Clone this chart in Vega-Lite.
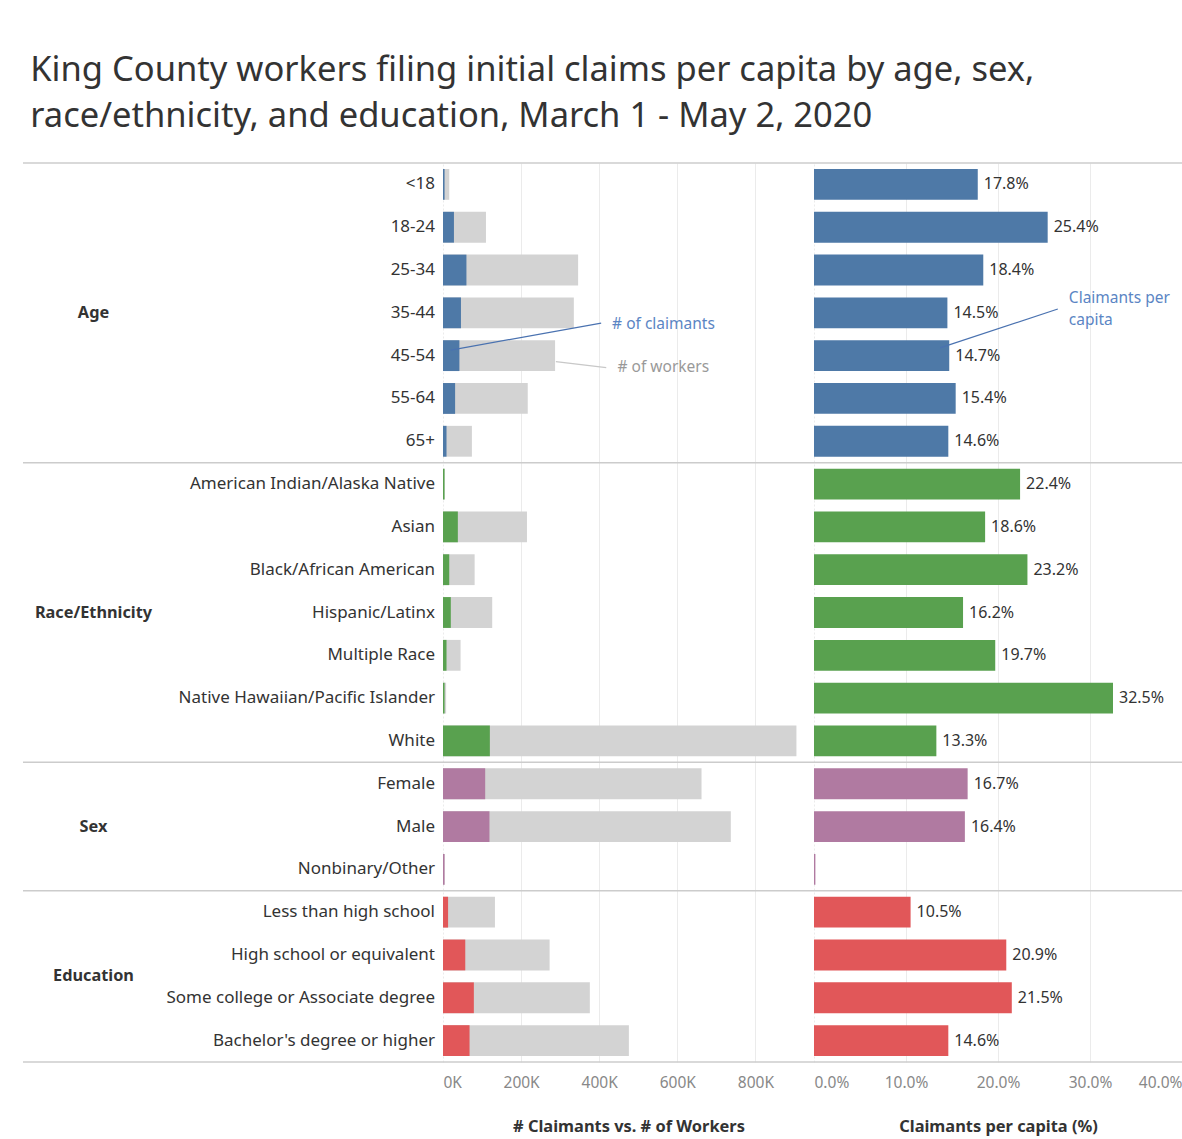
{
  "$schema": "https://vega.github.io/schema/vega-lite/v6.json",
  "background": "white",
  "padding": {"left": 22, "top": 52, "right": 0, "bottom": 4},
  "title": {
    "text": ["King County workers filing initial claims per capita by age, sex,", "race/ethnicity, and education, March 1 - May 2, 2020"],
    "anchor": "start",
    "font": "Noto Sans",
    "fontSize": 34.5,
    "fontWeight": "normal",
    "color": "#333333",
    "lineHeight": 46,
    "dx": 8,
    "offset": 28
  },
  "datasets": {
    "rows": [
      {"group": "Age", "label": "<18", "workers": 16, "claimants": 4, "pct": 0.178},
      {"group": "Age", "label": "18-24", "workers": 110, "claimants": 28, "pct": 0.254},
      {"group": "Age", "label": "25-34", "workers": 346, "claimants": 60, "pct": 0.184},
      {"group": "Age", "label": "35-44", "workers": 335, "claimants": 46, "pct": 0.145},
      {"group": "Age", "label": "45-54", "workers": 287, "claimants": 42, "pct": 0.147},
      {"group": "Age", "label": "55-64", "workers": 217, "claimants": 31, "pct": 0.154},
      {"group": "Age", "label": "65+", "workers": 74, "claimants": 9, "pct": 0.146},
      {"group": "Race/Ethnicity", "label": "American Indian/Alaska Native", "workers": 4, "claimants": 4, "pct": 0.224},
      {"group": "Race/Ethnicity", "label": "Asian", "workers": 215, "claimants": 38, "pct": 0.186},
      {"group": "Race/Ethnicity", "label": "Black/African American", "workers": 81, "claimants": 16, "pct": 0.232},
      {"group": "Race/Ethnicity", "label": "Hispanic/Latinx", "workers": 126, "claimants": 20, "pct": 0.162},
      {"group": "Race/Ethnicity", "label": "Multiple Race", "workers": 45, "claimants": 9, "pct": 0.197},
      {"group": "Race/Ethnicity", "label": "Native Hawaiian/Pacific Islander", "workers": 8, "claimants": 4, "pct": 0.325},
      {"group": "Race/Ethnicity", "label": "White", "workers": 905, "claimants": 120, "pct": 0.133},
      {"group": "Sex", "label": "Female", "workers": 662, "claimants": 108, "pct": 0.167},
      {"group": "Sex", "label": "Male", "workers": 737, "claimants": 119, "pct": 0.164},
      {"group": "Sex", "label": "Nonbinary/Other", "workers": 4, "claimants": 4, "pct": 0.0015},
      {"group": "Education", "label": "Less than high school", "workers": 133, "claimants": 13, "pct": 0.105},
      {"group": "Education", "label": "High school or equivalent", "workers": 273, "claimants": 57, "pct": 0.209},
      {"group": "Education", "label": "Some college or Associate degree", "workers": 376, "claimants": 79, "pct": 0.215},
      {"group": "Education", "label": "Bachelor's degree or higher", "workers": 476, "claimants": 68, "pct": 0.146}
    ],
    "groups": [
      {"group": "Age", "first": "<18", "anchor": "35-44", "even": false},
      {"group": "Race/Ethnicity", "first": "American Indian/Alaska Native", "anchor": "Hispanic/Latinx", "even": false},
      {"group": "Sex", "first": "Female", "anchor": "Male", "even": false},
      {"group": "Education", "first": "Less than high school", "anchor": "High school or equivalent", "even": true}
    ],
    "bottom": [{"last": "Bachelor's degree or higher"}],
    "claimNote": [{"x": 20, "x2": 405, "y": 4.37, "y2": 3.74, "t": "# of claimants", "tx": 433, "ty": 3.76}],
    "workNote": [{"x": 289, "x2": 418, "y": 4.64, "y2": 4.78, "t": "# of workers", "tx": 447, "ty": 4.77}],
    "pctNote": [{"x": 0.137, "x2": 0.265, "y": 4.32, "y2": 3.41, "t": "Claimants per\ncapita", "tx": 0.277, "ty": 3.15}]
  },
  "spacing": 0,
  "bounds": "flush",
  "hconcat": [
    {
      "width": 141,
      "height": 899,
      "layer": [
        {
          "data": {"name": "groups"},
          "mark": {"type": "rule", "color": "#cccccc", "strokeWidth": 1.5},
          "encoding": {
            "y": {"field": "first", "type": "nominal", "bandPosition": 0, "axis": null,
              "scale": {"domain": ["<18","18-24","25-34","35-44","45-54","55-64","65+","American Indian/Alaska Native","Asian","Black/African American","Hispanic/Latinx","Multiple Race","Native Hawaiian/Pacific Islander","White","Female","Male","Nonbinary/Other","Less than high school","High school or equivalent","Some college or Associate degree","Bachelor's degree or higher"], "paddingInner": 0, "paddingOuter": 0}}
          }
        },
        {
          "data": {"name": "bottom"},
          "mark": {"type": "rule", "color": "#cccccc", "strokeWidth": 1.5},
          "encoding": {
            "y": {"field": "last", "type": "nominal", "bandPosition": 1, "axis": null}
          }
        },
        {
          "data": {"name": "groups"},
          "transform": [{"filter": "!datum.even"}],
          "mark": {"type": "text", "align": "center", "baseline": "middle", "fontSize": 16.3, "fontWeight": "bold", "color": "#333333"},
          "encoding": {
            "y": {"field": "anchor", "type": "nominal", "bandPosition": 0.5, "axis": null},
            "text": {"field": "group"}
          }
        },
        {
          "data": {"name": "groups"},
          "transform": [{"filter": "datum.even"}],
          "mark": {"type": "text", "align": "center", "baseline": "middle", "fontSize": 16.3, "fontWeight": "bold", "color": "#333333"},
          "encoding": {
            "y": {"field": "anchor", "type": "nominal", "bandPosition": 1, "axis": null},
            "text": {"field": "group"}
          }
        }
      ]
    },
    {
      "width": 279,
      "height": 899,
      "layer": [
        {
          "data": {"name": "groups"},
          "mark": {"type": "rule", "color": "#cccccc", "strokeWidth": 1.5},
          "encoding": {
            "y": {"field": "first", "type": "nominal", "bandPosition": 0, "axis": null,
              "scale": {"domain": ["<18","18-24","25-34","35-44","45-54","55-64","65+","American Indian/Alaska Native","Asian","Black/African American","Hispanic/Latinx","Multiple Race","Native Hawaiian/Pacific Islander","White","Female","Male","Nonbinary/Other","Less than high school","High school or equivalent","Some college or Associate degree","Bachelor's degree or higher"], "paddingInner": 0, "paddingOuter": 0}}
          }
        },
        {
          "data": {"name": "bottom"},
          "mark": {"type": "rule", "color": "#cccccc", "strokeWidth": 1.5},
          "encoding": {
            "y": {"field": "last", "type": "nominal", "bandPosition": 1, "axis": null}
          }
        },
        {
          "data": {"name": "rows"},
          "mark": {"type": "text", "align": "right", "baseline": "middle", "dx": -8, "fontSize": 17, "color": "#333333"},
          "encoding": {
            "x": {"value": "width"},
            "y": {"field": "label", "type": "nominal", "axis": null},
            "text": {"field": "label"}
          }
        }
      ]
    },
    {
      "width": 371,
      "height": 899,
      "resolve": {"scale": {"y": "independent"}},
      "layer": [
        {
          "layer": [
            {
              "data": {"name": "rows"},
              "mark": {"type": "bar", "color": "#d3d3d3", "height": {"band": 0.72}},
              "encoding": {
                "x": {"field": "workers", "type": "quantitative",
                  "scale": {"domain": [0, 950], "nice": false},
                  "axis": {"title": "# Claimants vs. # of Workers", "values": [0, 200, 400, 600, 800], "labelExpr": "datum.value + 'K'",
                    "grid": true, "gridColor": "#ebebeb", "gridDash": {"condition": {"test": "datum.value === 0", "value": [2, 2]}, "value": []},
                    "domain": false, "ticks": false, "labelFontSize": 15.5, "labelColor": "#888888", "labelPadding": 13,
                    "titleFontSize": 16.4, "titleFontWeight": "bold", "titleColor": "#333333", "titlePadding": 28}},
                "y": {"field": "label", "type": "nominal", "axis": null,
                  "scale": {"domain": ["<18","18-24","25-34","35-44","45-54","55-64","65+","American Indian/Alaska Native","Asian","Black/African American","Hispanic/Latinx","Multiple Race","Native Hawaiian/Pacific Islander","White","Female","Male","Nonbinary/Other","Less than high school","High school or equivalent","Some college or Associate degree","Bachelor's degree or higher"], "paddingInner": 0, "paddingOuter": 0}}
              }
            },
            {
              "data": {"name": "rows"},
              "mark": {"type": "bar", "height": {"band": 0.72}},
              "encoding": {
                "x": {"field": "claimants", "type": "quantitative"},
                "y": {"field": "label", "type": "nominal", "axis": null},
                "color": {"field": "group", "type": "nominal", "legend": null,
                  "scale": {"domain": ["Age", "Race/Ethnicity", "Sex", "Education"], "range": ["#4e79a7", "#59a14f", "#b07aa1", "#e15759"]}}
              }
            },
            {
              "data": {"name": "groups"},
              "mark": {"type": "rule", "color": "#cccccc", "strokeWidth": 1.5},
              "encoding": {
                "y": {"field": "first", "type": "nominal", "bandPosition": 0, "axis": null}
              }
            },
            {
              "data": {"name": "bottom"},
              "mark": {"type": "rule", "color": "#cccccc", "strokeWidth": 1.5},
              "encoding": {
                "y": {"field": "last", "type": "nominal", "bandPosition": 1, "axis": null}
              }
            }
          ]
        },
        {
          "data": {"name": "claimNote"},
          "layer": [
            {
              "mark": {"type": "rule", "color": "#4a72b0", "strokeWidth": 1.2},
              "encoding": {
                "x": {"field": "x", "type": "quantitative"},
                "x2": {"field": "x2"},
                "y": {"field": "y", "type": "quantitative", "axis": null, "scale": {"domain": [0, 21], "reverse": true, "nice": false, "zero": false}},
                "y2": {"field": "y2"}
              }
            },
            {
              "mark": {"type": "text", "align": "left", "baseline": "middle", "fontSize": 15.5, "color": "#5b85c4"},
              "encoding": {
                "x": {"field": "tx", "type": "quantitative"},
                "y": {"field": "ty", "type": "quantitative", "axis": null},
                "text": {"field": "t"}
              }
            }
          ]
        },
        {
          "data": {"name": "workNote"},
          "layer": [
            {
              "mark": {"type": "rule", "color": "#c8c8c8", "strokeWidth": 1.2},
              "encoding": {
                "x": {"field": "x", "type": "quantitative"},
                "x2": {"field": "x2"},
                "y": {"field": "y", "type": "quantitative", "axis": null, "scale": {"domain": [0, 21], "reverse": true, "nice": false, "zero": false}},
                "y2": {"field": "y2"}
              }
            },
            {
              "mark": {"type": "text", "align": "left", "baseline": "middle", "fontSize": 15.5, "color": "#999999"},
              "encoding": {
                "x": {"field": "tx", "type": "quantitative"},
                "y": {"field": "ty", "type": "quantitative", "axis": null},
                "text": {"field": "t"}
              }
            }
          ]
        }
      ]
    },
    {
      "width": 368,
      "height": 899,
      "resolve": {"scale": {"y": "independent"}},
      "layer": [
        {
          "layer": [
            {
              "data": {"name": "rows"},
              "mark": {"type": "bar", "height": {"band": 0.72}},
              "encoding": {
                "x": {"field": "pct", "type": "quantitative",
                  "scale": {"domain": [0, 0.4], "nice": false},
                  "axis": {"title": "Claimants per capita (%)", "values": [0, 0.1, 0.2, 0.3, 0.4], "format": ".1%",
                    "grid": true, "gridColor": "#ebebeb", "gridDash": {"condition": {"test": "datum.value === 0", "value": [2, 2]}, "value": []},
                    "domain": false, "ticks": false, "labelFontSize": 15.5, "labelColor": "#888888", "labelPadding": 13,
                    "titleFontSize": 16.4, "titleFontWeight": "bold", "titleColor": "#333333", "titlePadding": 28}},
                "y": {"field": "label", "type": "nominal", "axis": null,
                  "scale": {"domain": ["<18","18-24","25-34","35-44","45-54","55-64","65+","American Indian/Alaska Native","Asian","Black/African American","Hispanic/Latinx","Multiple Race","Native Hawaiian/Pacific Islander","White","Female","Male","Nonbinary/Other","Less than high school","High school or equivalent","Some college or Associate degree","Bachelor's degree or higher"], "paddingInner": 0, "paddingOuter": 0}},
                "color": {"field": "group", "type": "nominal", "legend": null,
                  "scale": {"domain": ["Age", "Race/Ethnicity", "Sex", "Education"], "range": ["#4e79a7", "#59a14f", "#b07aa1", "#e15759"]}}
              }
            },
            {
              "data": {"name": "rows"},
              "transform": [{"filter": "datum.pct > 0.01"}],
              "mark": {"type": "text", "align": "left", "baseline": "middle", "dx": 6, "fontSize": 16, "color": "#333333"},
              "encoding": {
                "x": {"field": "pct", "type": "quantitative"},
                "y": {"field": "label", "type": "nominal", "axis": null},
                "text": {"field": "pct", "format": ".1%"}
              }
            },
            {
              "data": {"name": "groups"},
              "mark": {"type": "rule", "color": "#cccccc", "strokeWidth": 1.5},
              "encoding": {
                "y": {"field": "first", "type": "nominal", "bandPosition": 0, "axis": null}
              }
            },
            {
              "data": {"name": "bottom"},
              "mark": {"type": "rule", "color": "#cccccc", "strokeWidth": 1.5},
              "encoding": {
                "y": {"field": "last", "type": "nominal", "bandPosition": 1, "axis": null}
              }
            }
          ]
        },
        {
          "data": {"name": "pctNote"},
          "layer": [
            {
              "mark": {"type": "rule", "color": "#4a72b0", "strokeWidth": 1.2},
              "encoding": {
                "x": {"field": "x", "type": "quantitative"},
                "x2": {"field": "x2"},
                "y": {"field": "y", "type": "quantitative", "axis": null, "scale": {"domain": [0, 21], "reverse": true, "nice": false, "zero": false}},
                "y2": {"field": "y2"}
              }
            },
            {
              "mark": {"type": "text", "align": "left", "baseline": "middle", "fontSize": 15.5, "color": "#5b85c4", "lineBreak": "\n", "lineHeight": 22},
              "encoding": {
                "x": {"field": "tx", "type": "quantitative"},
                "y": {"field": "ty", "type": "quantitative", "axis": null},
                "text": {"field": "t"}
              }
            }
          ]
        }
      ]
    }
  ],
  "config": {
    "view": {"stroke": null},
    "font": "Noto Sans",
    "text": {"font": "Noto Sans"}
  }
}
